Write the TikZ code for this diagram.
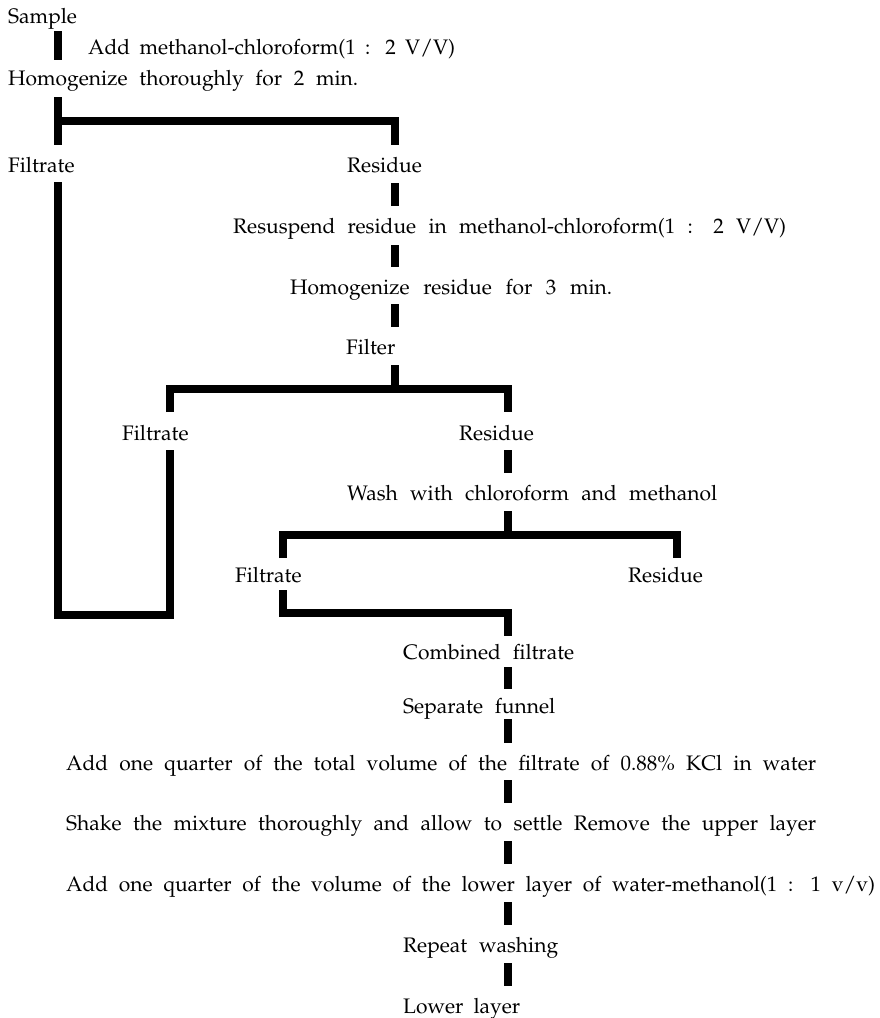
\documentclass[tikz,border=0pt]{standalone}
\usepackage[T1]{fontenc}
\usepackage{mathpazo}
\newcommand{\fitw}[2]{\makebox[#1pt][s]{#2}}
\tikzset{
  txt/.style={anchor=base west, inner sep=0pt, font=\fontsize{21}{25}\selectfont},
  bar/.style={line width=7.5pt, line join=miter, line cap=butt}
}
\begin{document}
\begin{tikzpicture}[x=1pt,y=-1pt]
\useasboundingbox[fill=white] (0,0) rectangle (879,1018);
% texts
\node[txt] (sample) at (8,23.5) {Sample};
\node[txt] (addmc) at (88,54) {\fitw{367}{Add methanol-chloroform(1 : 2 V/V)}};
\node[txt] (homog) at (8,85.5) {\fitw{350}{Homogenize thoroughly for 2 min.}};
\node[txt] (filt1) at (8,172) {Filtrate};
\node[txt] (res1) at (347,172) {Residue};
\node[txt] (resusp) at (233,233) {\fitw{553}{Resuspend residue in methanol-chloroform(1 : 2 V/V)}};
\node[txt] (homog2) at (290,294.5) {\fitw{322}{Homogenize residue for 3 min.}};
\node[txt] (filter) at (346,354.5) {Filter};
\node[txt] (filt2) at (122,440.5) {Filtrate};
\node[txt] (res2) at (459,440.5) {Residue};
\node[txt] (wash) at (347,500.5) {\fitw{370}{Wash with chloroform and methanol}};
\node[txt] (filt3) at (235,582) {Filtrate};
\node[txt] (res3) at (628,582) {Residue};
\node[txt] (comb) at (403,659.5) {\fitw{171}{Combined filtrate}};
\node[txt] (sep) at (403,713.5) {\fitw{152}{Separate funnel}};
\node[txt] (add1) at (66,770.5) {\fitw{750}{Add one quarter of the total volume of the filtrate of 0.88\% KCl in water}};
\node[txt] (shake) at (66,830.5) {\fitw{750}{Shake the mixture thoroughly and allow to settle Remove the upper layer}};
\node[txt] (add2) at (66,891) {\fitw{809}{Add one quarter of the volume of the lower layer of water-methanol(1 : 1 v/v)}};
\node[txt] (rep) at (403,952.5) {\fitw{155}{Repeat washing}};
\node[txt] (lower) at (403,1013.5) {\fitw{117}{Lower layer}};
% connector coordinates
\coordinate (s1) at (58,31);   \coordinate (s2) at (58,60);
\coordinate (h1) at (58,97);   \coordinate (h2) at (58,145);
\coordinate (hj) at (58,121);  \coordinate (hr) at (395,121); \coordinate (hr2) at (395,145);
\coordinate (f1a) at (58,182); \coordinate (f1b) at (58,615);
\coordinate (f2b) at (170,615); \coordinate (f2a) at (170,450);
\coordinate (r1a) at (395,183); \coordinate (r1b) at (395,206);
\coordinate (r2a) at (395,245); \coordinate (r2b) at (395,267);
\coordinate (r3a) at (395,304); \coordinate (r3b) at (395,327);
\coordinate (r4a) at (395,365); \coordinate (r4b) at (395,389);
\coordinate (k1) at (170,412); \coordinate (k2) at (170,389);
\coordinate (k3) at (508,389); \coordinate (k4) at (508,412);
\coordinate (w1a) at (508,450); \coordinate (w1b) at (508,473);
\coordinate (w2a) at (508,511); \coordinate (w2b) at (508,535);
\coordinate (m1) at (283,558); \coordinate (m2) at (283,535);
\coordinate (m3) at (677,535); \coordinate (m4) at (677,558);
\coordinate (c1) at (283,590); \coordinate (c2) at (283,613);
\coordinate (c3) at (508,613); \coordinate (c4) at (508,636);
\coordinate (l1a) at (508,667); \coordinate (l1b) at (508,689);
\coordinate (l2a) at (508,719); \coordinate (l2b) at (508,743);
\coordinate (l3a) at (508,780); \coordinate (l3b) at (508,803);
\coordinate (l4a) at (508,841); \coordinate (l4b) at (508,864);
\coordinate (l5a) at (508,902); \coordinate (l5b) at (508,925);
\coordinate (l6a) at (508,963); \coordinate (l6b) at (508,986);
% connectors
\draw[bar] (s1) -- (s2);
\draw[bar] (h1) -- (h2);
\draw[bar] (hj) -- (hr) -- (hr2);
\draw[bar] (f1a) -- (f1b) -- (f2b) -- (f2a);
\draw[bar] (r1a) -- (r1b);
\draw[bar] (r2a) -- (r2b);
\draw[bar] (r3a) -- (r3b);
\draw[bar] (r4a) -- (r4b);
\draw[bar] (k1) -- (k2) -- (k3) -- (k4);
\draw[bar] (w1a) -- (w1b);
\draw[bar] (w2a) -- (w2b);
\draw[bar] (m1) -- (m2) -- (m3) -- (m4);
\draw[bar] (c1) -- (c2) -- (c3) -- (c4);
\draw[bar] (l1a) -- (l1b);
\draw[bar] (l2a) -- (l2b);
\draw[bar] (l3a) -- (l3b);
\draw[bar] (l4a) -- (l4b);
\draw[bar] (l5a) -- (l5b);
\draw[bar] (l6a) -- (l6b);
\end{tikzpicture}
\end{document}
